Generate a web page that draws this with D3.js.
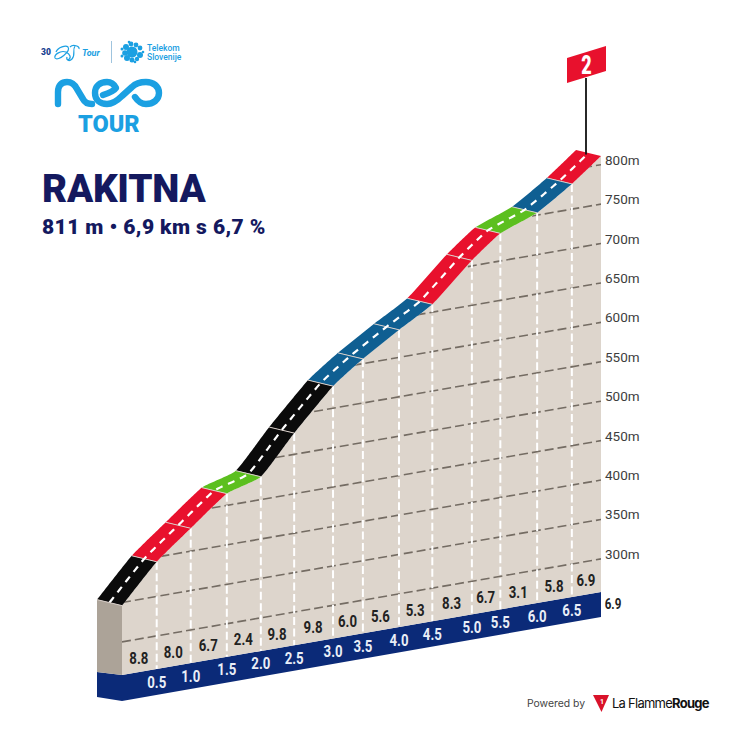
<!DOCTYPE html>
<html><head><meta charset="utf-8">
<style>html,body{margin:0;padding:0;background:#fff}svg{display:block}</style>
<script src="https://cdnjs.cloudflare.com/ajax/libs/d3/7.8.5/d3.min.js"></script></head>
<body><svg id="c" width="736" height="736"></svg>
<script>
const kmMarks   = [0,0.5,1.0,1.5,2.0,2.5,3.0,3.5,4.0,4.5,5.0,5.5,6.0,6.5,6.9];
const kmPlaced  = [0,0.5,0.99,1.51,2.0,2.48,3.04,3.47,3.99,4.47,5.04,5.45,5.98,6.48,6.9];
const elevation = [346,394,429,465,479,527,578,606,635,660,707,735,753,782,811];
const gradients = ["8.8","8.0","6.7","2.4","9.8","9.8","6.0","5.6","5.3","8.3","6.7","3.1","5.8","6.9"];
const segClass  = ["k","r","r","g","k","k","b","b","b","r","r","g","b","r"];
const kmLabels  = ["0.5","1.0","1.5","2.0","2.5","3.0","3.5","4.0","4.5","5.0","5.5","6.0","6.5"];
const altTicks  = [300,350,400,450,500,550,600,650,700,750,800];
const palette   = {k:"#0b0b0b",r:"#e8112d",g:"#5cbf1f",b:"#0f5f92"};

const svg=d3.select("#c");
const x=d3.scaleLinear().domain([0,6.9]).range([122,601]);
const dY=d3.scaleLinear().domain([0,6.9]).range([675,592]);   // tilted ground line
const h=d3.scaleLinear().domain([258,811]).range([0,436]);    // height above the ground
const Y=(k,e)=>dY(k)-h(e);
const pts=kmPlaced.map((k,i)=>[x(k),Y(k,elevation[i])]);
const BX=-25,BY=-6;

// ---- logos
const blue="#1ba0e2";
const logo=svg.append("g");
logo.append("text").attr("x",41).attr("y",55).attr("font-family","Roboto").attr("font-weight",900).attr("font-size",8.5).attr("fill","#15408f").text("30");
logo.append("path").attr("d","M56 52C58 47 66 45 68 47C71 51 58 62 55 58C54 55 60 50 66 52C70 54 72 58 68 60M70 47C73 44 80 46 79 49M75 46C72 50 76 55 72 59C69 62 66 60 67 57")
  .attr("fill","none").attr("stroke",blue).attr("stroke-width",1.2);
logo.append("text").attr("x",82).attr("y",56).attr("font-family","Roboto").attr("font-style","italic").attr("font-weight",700).attr("font-size",9).attr("fill",blue).text("Tour");
logo.append("line").attr("x1",111.5).attr("x2",111.5).attr("y1",41).attr("y2",63).attr("stroke","#9fc4de").attr("stroke-width",1);
const dots=[[132,52,5.5],[126,47,3],[131,44,2.4],[136,45,2.4],[140,48,2.4],[125,53,2.8],[127,58,3],[132,60,2.5],[137,59,2.2],[140,55,3],[122,49,1.5],[122,56,1.5],[129,42,1.3],[143,52,1.3],[135,62,1.3]];
logo.selectAll("circle.d").data(dots).join("circle").attr("class","d").attr("cx",d=>d[0]).attr("cy",d=>d[1]).attr("r",d=>d[2]).attr("fill",blue);
logo.append("text").attr("x",147).attr("y",51).attr("font-family","Roboto").attr("font-weight",500).attr("font-size",8.5).attr("fill",blue).text("Telekom");
logo.append("text").attr("x",147).attr("y",60).attr("font-family","Roboto").attr("font-weight",500).attr("font-size",8.5).attr("fill",blue).text("Slovenije");
logo.append("path").attr("d","M58 104V92C58 85 62 82 67 82C72 82 75 85 77 89L83 99C85 103 88 104 92 104M103 95C106 94 114 91 116 88C114 84 111 82 107 82C100 82 95 86 95 93C95 100 100 104 107 104C113 104 117 101 122 96L132 87C136 83 141 82 146 82C153 82 159 86 159 93C159 100 153 104 146 104C141 104 137 100 135 97")
  .attr("fill","none").attr("stroke",blue).attr("stroke-width",6.4).attr("stroke-linecap","round").attr("stroke-linejoin","round");
logo.append("text").attr("x",78).attr("y",132).attr("font-family","Roboto").attr("font-weight",900).attr("font-size",23.5).attr("fill",blue).text("TOUR");

// ---- title
svg.append("text").attr("x",42).attr("y",202).attr("font-family","Roboto").attr("font-weight",900).attr("font-size",38.5).attr("letter-spacing",-.2).attr("fill","#14195f").text("RAKITNA");
svg.append("text").attr("x",42).attr("y",234).attr("font-family","Roboto").attr("font-weight",900).attr("font-size",21).attr("letter-spacing",.4).attr("fill","#14195f").text("811 m • 6,9 km s 6,7 %");

// ---- base band
const bandH=25;
svg.append("path").attr("fill","#0b2a78").attr("d",d3.line()([[x(0)+BX,dY(0)+BY+3],[x(0),dY(0)],[x(6.9),dY(6.9)],[x(6.9),dY(6.9)+bandH],[x(0),dY(0)+bandH+1],[x(0)+BX,dY(0)+bandH-3]])+"Z");
// left wall
svg.append("path").attr("fill","#aca398").attr("d",d3.line()([pts[0],[pts[0][0]+BX,pts[0][1]+BY],[x(0)+BX,dY(0)+BY+3],[x(0),dY(0)]])+"Z");
// main face
const front=d3.line().curve(d3.curveCardinal.tension(0.55));
const facePath=front(pts)+`L${x(6.9)},${dY(6.9)}L${x(0)},${dY(0)}Z`;
svg.append("path").attr("fill","#ddd5cc").attr("d",facePath);
svg.append("clipPath").attr("id","fc").append("path").attr("d",facePath);
const grid=svg.append("g").attr("clip-path","url(#fc)");
grid.selectAll("line.g").data(altTicks.concat([])).join("line").attr("class","g")
  .attr("x1",x(0)).attr("x2",x(6.9)).attr("y1",d=>Y(0,d)).attr("y2",d=>Y(6.9,d))
  .attr("stroke","#746c63").attr("stroke-width",1.6).attr("stroke-dasharray","9 4");
grid.selectAll("line.v").data(kmPlaced.slice(1,-1)).join("line").attr("class","v")
  .attr("x1",d=>x(d)).attr("x2",d=>x(d)).attr("y1",(d,i)=>pts[i+1][1]).attr("y2",d=>dY(d))
  .attr("stroke","#fff").attr("stroke-width",2).attr("stroke-dasharray","8 3.5");

// ---- road: one ribbon per segment, following the same curve
const curvePath=d3.select(document.createElementNS("http://www.w3.org/2000/svg","path")).attr("d",front(pts)).node();
const len=curvePath.getTotalLength();
const lenAt=[0];{ // arc length of each km mark
  let j=1;for(let l=0;l<=len&&j<pts.length;l+=.25){const p=curvePath.getPointAtLength(l);if(p.x>=pts[j][0]){lenAt[j]=l;j++;}}
  lenAt[pts.length-1]=len;
}
const samp=(a,b)=>d3.range(a,b,2).concat([b]).map(l=>{const p=curvePath.getPointAtLength(l);return [p.x,p.y];});
const road=svg.append("g");
segClass.forEach((c,i)=>{
  const s=samp(lenAt[i],lenAt[i+1]);
  const back=s.map(p=>[p[0]+BX,p[1]+BY]).reverse();
  road.append("path").attr("fill",palette[c]).attr("d",d3.line()(s.concat(back))+"Z");
});
kmPlaced.slice(1,-1).forEach((k,i)=>{
  const p=pts[i+1];
  road.append("line").attr("x1",p[0]).attr("y1",p[1]).attr("x2",p[0]+BX).attr("y2",p[1]+BY).attr("stroke","#d9cfc9").attr("stroke-width",1);
});
road.append("path").attr("fill","none").attr("stroke","#fff").attr("stroke-width",2.2).attr("stroke-dasharray","7 6")
  .attr("d",d3.line()(samp(0,len).map(p=>[p[0]+BX/2,p[1]+BY/2])));
road.append("line").attr("x1",pts[0][0]).attr("y1",pts[0][1]).attr("x2",pts[0][0]+BX).attr("y2",pts[0][1]+BY).attr("stroke","#d9cfc9").attr("stroke-width",1);

// ---- labels
const cond=(g,px,py,t,o)=>g.append("text").attr("transform",`translate(${px},${py}) scale(.8,1)`)
  .attr("text-anchor",o.anchor||"middle").attr("dominant-baseline","central").attr("font-family","Roboto")
  .attr("font-weight",700).attr("font-size",o.size||16.5).attr("fill",o.fill).text(t);
const lab=svg.append("g");
gradients.forEach((g,i)=>{
  const m=(kmPlaced[i]+kmPlaced[i+1])/2;
  cond(lab,x(m)-.5,dY(m)-14,g,{fill:"#222"});
});
kmLabels.forEach((t,i)=>{
  const k=kmPlaced[i+1];
  cond(lab,x(k),dY(k)+13,t,{fill:"#e9eef7"});
});
cond(lab,613,604,"6.9",{fill:"#222",size:14.5});
lab.selectAll("text.alt").data(altTicks).join("text").attr("class","alt")
  .attr("x",605).attr("y",d=>Y(6.9,d)-5).attr("dominant-baseline","central")
  .attr("font-family","Roboto").attr("font-size",13.5).attr("fill","#3d3d3d").text(d=>d+"m");

// ---- flag
svg.append("line").attr("x1",586).attr("x2",586).attr("y1",78).attr("y2",pts[14][1]-1.5).attr("stroke","#111").attr("stroke-width",1.8);
svg.append("path").attr("fill","#e8112d").attr("d",d3.line()([[567,58],[606,46],[606,71],[567,83]])+"Z");
svg.append("text").attr("transform","translate(586.5,65) scale(.72,1)").attr("text-anchor","middle").attr("dominant-baseline","central")
  .attr("font-family","Roboto").attr("font-weight",900).attr("font-size",25).attr("fill","#fff").text("2");

// ---- footer
const ft=svg.append("g");
ft.append("text").attr("x",527).attr("y",707).attr("font-family","Inter").attr("font-size",10.4).attr("fill","#444").text("Powered by");
ft.append("path").attr("fill","#d9122a").attr("d","M593 695H609L601.5 712Z");
ft.append("text").attr("x",600).attr("y",704).attr("font-family","Roboto").attr("font-weight",700).attr("font-size",7).attr("fill","#fff").text("1");
ft.append("text").attr("x",612).attr("y",708).attr("font-family","Inter").attr("font-size",13).attr("letter-spacing",-.75).attr("fill","#111").text("La Flamme").append("tspan").attr("font-weight",700).text("Rouge");
</script></body></html>
